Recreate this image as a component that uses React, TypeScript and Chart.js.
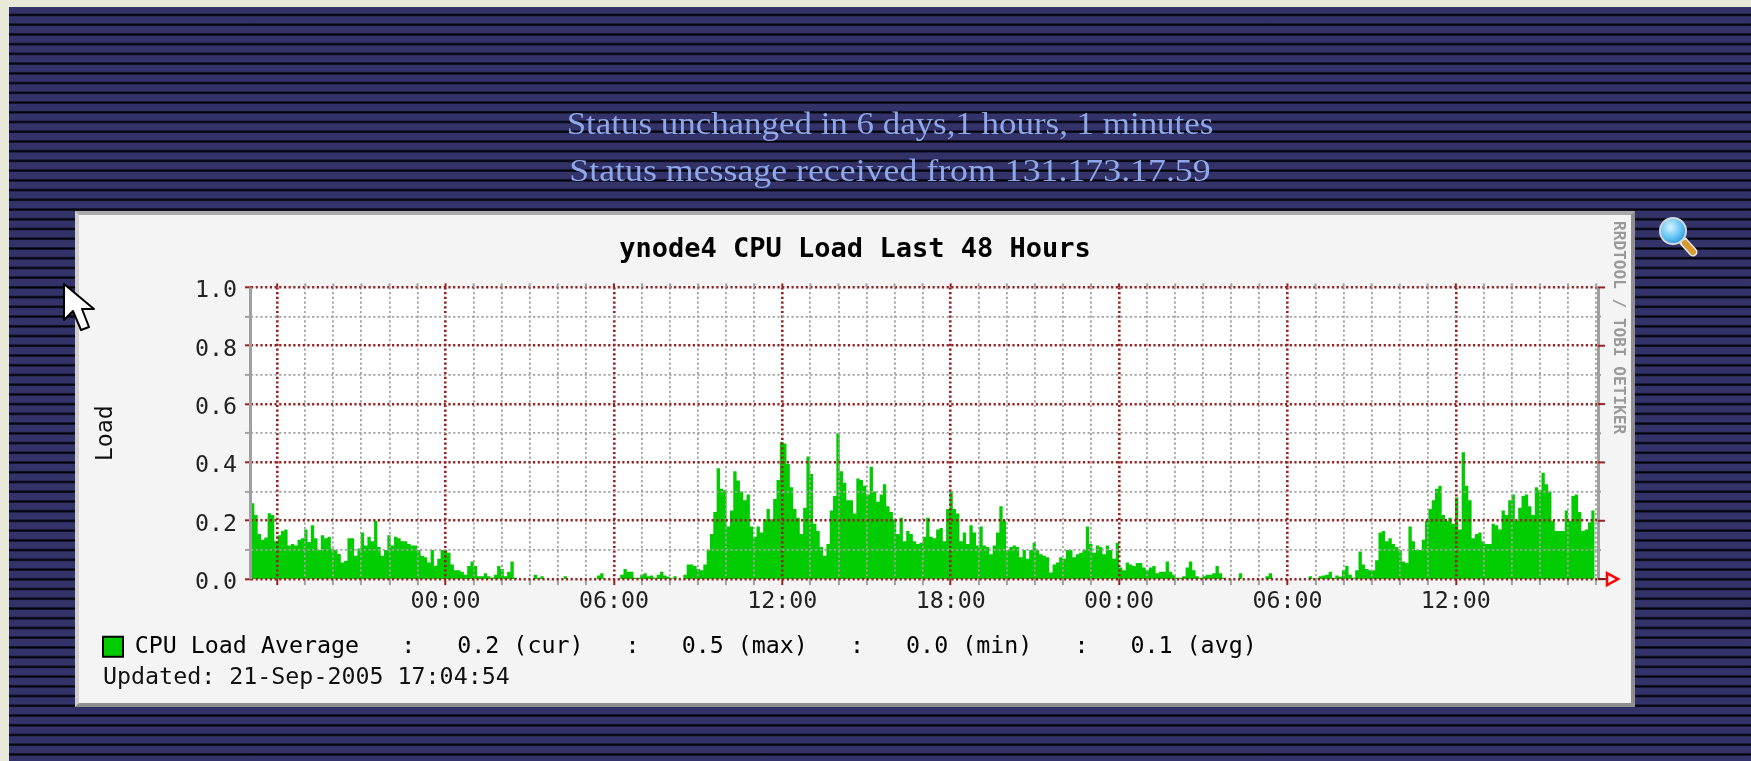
import React, { useEffect, useRef } from "react";
import { Chart, registerables } from "chart.js";

Chart.register(...registerables);

const chartTitle = "ynode4 CPU Load Last 48 Hours";
const yAxisTitle = "Load";
const statusLines = ["Status unchanged in 6 days,1 hours, 1 minutes", "Status message received from 131.173.17.59"];
const statusStretch = [1.126, 1.155];
const legendText = "CPU Load Average   :   0.2 (cur)   :   0.5 (max)   :   0.0 (min)   :   0.1 (avg)";
const updatedText = "Updated: 21-Sep-2005 17:04:54";
const creditText = "RRDTOOL / TOBI OETIKER";
const xLabels = ["", "00:00", "06:00", "12:00", "18:00", "00:00", "06:00", "12:00"];
const hourOfFirstTick = 56 / 60;
const yLabelled = ["0.0", "0.2", "0.4", "0.6", "0.8", "1.0"];

const eveningLoad = [
  .26, .22, .155, .135, .143, .226, .22, .13, .15, .165, .17, .115, .12, .115, .135, .14, .17, .127, .185, .14,
  .1, .15, .14, .145, .105, .1, .086, .057, .063, .14, .14, .08, .105, .16, .115, .145, .13, .2, .11, .08,
  .1, .15, .115, .145, .14, .13, .13, .12, .115, .115, .1, .08, .075, .057, .1, .046, .07, .1, .1,
];
const nightLoad = [
  .09, .05, .03, .03, .025, .015, .045, .06, .045, .01, .01, .02, .01, .005, .015, .045, .035, .01, .025, .06, .005,
  0, 0, 0, 0, 0, .015, .005, .01, 0, 0, 0, 0, 0, 0, .01, 0, 0, 0, 0, 0, 0, 0, 0, 0, .012, .02, 0, 0, 0, 0, 0,
  .015, .035, .025, .025, .005, .005, .015, .02, .01, .012, .005, .015, .025, .012, .008, .003, .01, 0, 0,
  .015, .05, .05, .045, .035, .03, .05, .1, .155, .23, .38, .31, .305, .18, .235, .37,
];
const noonLoad = [
  .338, .3, .27, .29, .18, .145, .18, .16, .205, .24, .205, .275, .34, .47, .465, .395, .315, .24, .21, .155,
  .245, .42, .36, .19, .165, .11, .08, .12, .235, .285, .5, .37, .33, .27, .27, .225, .345, .34, .32, .29,
  .385, .3, .265, .29, .325, .25, .23, .205, .155, .21, .13, .165, .155, .13, .12, .125, .145,
];
const afternoonLoad = [
  .21, .145, .14, .17, .175, .13, .24, .3, .24, .225, .13, .16, .12, .185, .16, .115, .18, .115, .11, .085,
  .115, .16, .25, .2, .1, .11, .115, .11, .075, .1, .07, .1, .125, .1, .085, .08, .075, .023, .05, .057,
  .075, .07, .1, .1, .075, .085, .09, .1, .18, .12, .09, .115, .11, .085, .115, .1, .07, .125, .04, .03,
  .057, .05, .045,
];
const secondNightLoad = [
  .055, .055, .04, .03, .04, .045, .02, .025, .025, .06, .025, .015, .005, .005, .01, .04, .06, .03, .01, .005, .01,
  .015, .015, .02, .045, .02, .005, 0, 0, 0, 0, .02, 0, 0, 0, 0, 0, 0, 0, .01, .02, 0, 0, 0, 0, 0, 0, 0,
  0, 0, 0, 0, .01, .002, .003, .01, .012, .015, .025, .005, .012, .008, .03, .045, .015, .005, .03, .095,
];
const lastDayLoad = [
  .05, .035, .03, .03, .065, .16, .165, .13, .14, .12, .11, .1, .06, .055, .18, .13, .1, .1, .135, .2,
  .24, .27, .31, .32, .22, .2, .21, .19, .28, .17, .435, .32, .27, .14, .155, .16, .13, .12, .12, .19,
  .185, .17, .235, .22, .27, .29, .2, .245, .285, .29, .25, .22, .315, .305, .365, .325, .3, .2, .165, .165,
  .165, .235, .2, .285, .29, .23, .165, .17, .195, .235, .21,
];
const loadValues = [...eveningLoad, ...nightLoad, ...noonLoad, ...afternoonLoad, ...secondNightLoad, ...lastDayLoad];

const MONO = '"DejaVu Sans Mono", monospace';
const RED = "#962222";
const GRAY = "#a2a2a2";

const framePlugin = {
  id: "rrdFrame",
  afterDraw(chart: any) {
    const { ctx, chartArea: a, scales } = chart;
    ctx.save();
    ctx.fillStyle = "#a0a0a0";
    ctx.fillRect(a.left - 2, a.top, 3, a.bottom - a.top);
    ctx.fillRect(a.right - 1, a.top, 3, a.bottom - a.top);
    ctx.lineWidth = 2;
    for (const t of scales.y.ticks) {
      const y = scales.y.getPixelForValue(t.value);
      const major = Math.round(t.value * 10) % 2 === 0;
      ctx.strokeStyle = major ? RED : GRAY;
      ctx.beginPath();
      ctx.moveTo(a.right, y);
      ctx.lineTo(a.right + (major ? 7 : 3), y);
      ctx.stroke();
    }
    for (const t of scales.x.ticks) {
      const x = scales.x.getPixelForValue(t.value);
      const major = Math.round(t.value - hourOfFirstTick) % 6 === 0;
      ctx.strokeStyle = major ? RED : GRAY;
      ctx.beginPath();
      ctx.moveTo(x, a.top - 4);
      ctx.lineTo(x, a.top);
      ctx.stroke();
    }
    ctx.strokeStyle = "#7a1f1f";
    ctx.beginPath();
    ctx.moveTo(a.right, a.bottom);
    ctx.lineTo(a.right + 8, a.bottom);
    ctx.stroke();
    ctx.strokeStyle = "#ff0000";
    ctx.lineWidth = 2.5;
    ctx.beginPath();
    ctx.moveTo(a.right + 9, a.bottom - 6);
    ctx.lineTo(a.right + 20, a.bottom);
    ctx.lineTo(a.right + 9, a.bottom + 6);
    ctx.closePath();
    ctx.stroke();
    ctx.restore();
  },
};

export default function App() {
  const ref = useRef<HTMLCanvasElement>(null);
  useEffect(() => {
    const step = 48 / loadValues.length;
    const isMajorX = (v: number) => Math.round(v - hourOfFirstTick) % 6 === 0;
    const isMajorY = (v: number) => Math.round(v * 10) % 2 === 0;
    const chart = new Chart(ref.current!, {
      type: "line",
      data: {
        datasets: [
          {
            label: "CPU Load Average",
            data: loadValues.map((y, i) => ({ x: i * step, y })),
            stepped: "before",
            pointRadius: 0,
            borderWidth: 0,
            fill: "origin",
            backgroundColor: "#00cc00",
          },
        ],
      },
      options: {
        animation: false,
        responsive: false,
        layout: { autoPadding: false, padding: { left: 14, top: 0, right: 14, bottom: 39.6 } },
        plugins: {
          title: {
            display: true,
            text: chartTitle,
            color: "#000",
            font: { family: MONO, size: 27, weight: "bold" },
            padding: { top: 22.5, bottom: 21.5 },
          },
          legend: {
            display: true,
            position: "bottom",
            align: "start",
            labels: {
              boxWidth: 20,
              boxHeight: 20,
              padding: 14,
              color: "#111",
              font: { family: MONO, size: 23.3 },
              generateLabels: () => [
                { text: legendText, fillStyle: "#00cc00", strokeStyle: "#000", lineWidth: 2, datasetIndex: 0 },
              ],
            },
          },
          tooltip: { enabled: false },
        },
        scales: {
          x: {
            type: "linear",
            min: 0,
            max: 48,
            afterBuildTicks(axis: any) {
              const ticks = [];
              for (let h = hourOfFirstTick; h < 48; h += 1) ticks.push({ value: h });
              axis.ticks = ticks;
            },
            afterFit(axis: any) {
              axis.height = 42;
            },
            grid: {
              z: 1,
              lineWidth: (c: any) => (isMajorX(c.tick.value) ? 2.6 : 1.8),
              tickLength: 6,
              tickWidth: 2,
              color: (c: any) => (isMajorX(c.tick.value) ? RED : GRAY),
              tickColor: (c: any) => (isMajorX(c.tick.value) ? RED : GRAY),
            },
            border: { display: false, dash: [2.2, 2.5] },
            ticks: {
              autoSkip: false,
              maxRotation: 0,
              padding: 3,
              color: "#222",
              font: { family: MONO, size: 23.3 },
              callback(v: any) {
                const h = Math.round(Number(v) - hourOfFirstTick);
                return h % 6 === 0 ? xLabels[h / 6] ?? "" : "";
              },
            },
          },
          y: {
            min: 0,
            max: 1,
            afterFit(axis: any) {
              axis.width = 162;
            },
            title: {
              display: true,
              text: yAxisTitle,
              color: "#111",
              font: { family: MONO, size: 23.3 },
              padding: { top: 3, bottom: 0 },
            },
            grid: {
              z: 1,
              lineWidth: (c: any) => (isMajorY(c.tick.value) ? 2.6 : 1.8),
              tickLength: 6,
              tickWidth: 2,
              color: (c: any) => (isMajorY(c.tick.value) ? RED : GRAY),
              tickColor: (c: any) => (isMajorY(c.tick.value) ? RED : GRAY),
            },
            border: { display: false, dash: [2.2, 2.5] },
            ticks: {
              stepSize: 0.1,
              autoSkip: false,
              padding: 8,
              labelOffset: 4,
              color: "#222",
              font: { family: MONO, size: 23.3 },
              callback(v: any) {
                return isMajorY(Number(v)) ? yLabelled[Math.round(Number(v) * 5)] : "";
              },
            },
          },
          rightGutter: {
            position: "right",
            min: 0,
            max: 1,
            afterFit(axis: any) {
              axis.width = 23;
            },
            grid: { display: false, drawOnChartArea: false, drawTicks: false },
            border: { display: false },
            ticks: { display: false },
          },
        },
      },
      plugins: [
        framePlugin,
        {
          id: "plotWhite",
          beforeDraw(c: any) {
            const { ctx, chartArea: a } = c;
            ctx.save();
            ctx.fillStyle = "#fff";
            ctx.fillRect(a.left, a.top, a.right - a.left, a.bottom - a.top);
            ctx.restore();
          },
        },
      ],
    } as any);
    return () => chart.destroy();
  }, []);

  const soft = "blur(0.6px)";
  return (
    <div style={{ position: "fixed", inset: 0, overflow: "hidden", background: "#e8e8d8" }}>
      <div
        style={{
          position: "absolute",
          left: 9,
          top: 7,
          right: 0,
          bottom: 0,
          background:
            "repeating-linear-gradient(to bottom, #33336a 0px, #33336a 6px, #14142c 7px, #000008 8px, #14142c 9px, #33336a 9.73px)",
        }}
      />
      {statusLines.map((line, i) => (
        <div
          key={line}
          style={{
            position: "absolute",
            left: 467,
            width: 846,
            top: 106 + i * 47,
            textAlign: "center",
            font: '31px "Liberation Serif", serif',
            color: "#8fa8ea",
            whiteSpace: "nowrap",
            transform: `scaleX(${statusStretch[i]})`,
            filter: "blur(0.35px)",
          }}
        >
          {line}
        </div>
      ))}
      <div
        style={{
          position: "absolute",
          left: 75,
          top: 211,
          width: 1560,
          height: 496,
          boxSizing: "border-box",
          background: "#f4f4f4",
          borderStyle: "solid",
          borderWidth: 4,
          borderColor: "#a9a9a9 #8e8e8e #8e8e8e #cfcfcf",
        }}
      />
      <canvas
        ref={ref}
        width={1560}
        height={497}
        style={{ position: "absolute", left: 75, top: 211, filter: soft }}
      />
      <div
        style={{
          position: "absolute",
          left: 103,
          top: 662,
          font: `23.3px ${MONO}`,
          color: "#111",
          whiteSpace: "pre",
          filter: soft,
        }}
      >
        {updatedText}
      </div>
      <div
        style={{
          position: "absolute",
          left: 1610,
          top: 221,
          writingMode: "vertical-rl",
          font: `bold 16.1px ${MONO}`,
          color: "#9a9a9a",
          whiteSpace: "pre",
          filter: soft,
        }}
      >
        {creditText}
      </div>
      <svg style={{ position: "absolute", left: 58, top: 278 }} width={40} height={62} aria-hidden="true">
        <path
          d="M6 6 L6 42 L15 33 L23 52 L31 49 L24 31 L36 31 Z"
          fill="#fff"
          stroke="#000"
          strokeWidth={2}
          strokeLinejoin="round"
        />
      </svg>
      <svg style={{ position: "absolute", left: 1655, top: 212 }} width={50} height={50} aria-hidden="true">
        <defs>
          <radialGradient id="lens" cx="0.4" cy="0.35" r="0.7">
            <stop offset="0" stopColor="#d8f3ff" />
            <stop offset="0.6" stopColor="#60c4f4" />
            <stop offset="1" stopColor="#2a90d8" />
          </radialGradient>
        </defs>
        <line x1={28} y1={29} x2={38} y2={40} stroke="#e9e9e9" strokeWidth={9} strokeLinecap="round" />
        <line x1={30} y1={31} x2={38} y2={40} stroke="#d69a30" strokeWidth={6} strokeLinecap="round" />
        <circle cx={18} cy={19} r={13} fill="url(#lens)" stroke="#cfd6dd" strokeWidth={2} />
      </svg>
    </div>
  );
}
